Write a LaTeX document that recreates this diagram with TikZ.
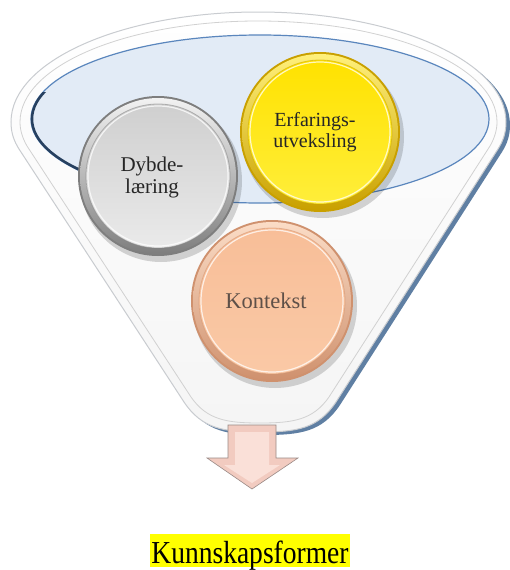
\documentclass[tikz,border=0pt]{standalone}
\usepackage{fontspec}
\setmainfont{Liberation Serif}
\usepackage{graphicx}
\usetikzlibrary{calc}
\definecolor{funnelshadow}{HTML}{5F7FA3}
\definecolor{iceblue}{HTML}{E2EBF6}
\definecolor{rimblue}{HTML}{5A86BD}
\definecolor{navyrim}{HTML}{27405F}
\definecolor{rimgray}{HTML}{C9CCD0}
\definecolor{arrowpink}{HTML}{F2CBC0}
\definecolor{arrowlight}{HTML}{FAE0D8}
\definecolor{arrowedge}{HTML}{9A8A86}
\definecolor{hiyellow}{HTML}{FFFF00}
\definecolor{kontekstgray}{HTML}{5E5048}
\definecolor{gRim}{HTML}{7E7E7E}
\definecolor{gLight}{HTML}{F2F2F2}
\definecolor{gTop}{HTML}{CFCFCF}
\definecolor{gBot}{HTML}{EAEAEA}
\definecolor{yRim}{HTML}{C9A000}
\definecolor{yLight}{HTML}{FFF07A}
\definecolor{yTop}{HTML}{FFE200}
\definecolor{yBot}{HTML}{FFEE3A}
\definecolor{oRim}{HTML}{CF916E}
\definecolor{oLight}{HTML}{FBDCC6}
\definecolor{oTop}{HTML}{F8BE98}
\definecolor{oBot}{HTML}{FAC9A6}
\tikzset{
  balltext/.style={align=center, text=black!85, font=\fontsize{21}{22}\selectfont, inner sep=0pt},
}
\newcommand\glossball[6]{%
  \fill[black,opacity=0.16] ($(#1)+(3,5)$) circle[radius=#2pt+1pt];
  \fill[#3] (#1) circle[radius=#2pt];
  \shade[top color=#4, bottom color=#3] (#1) circle[radius=#2pt-2pt];
  \shade[top color=#5, bottom color=#6] (#1) circle[radius=#2pt-8pt];
  \draw[white, opacity=0.75, line width=1.2pt] (#1) circle[radius=#2pt-10pt];
  \draw[#3, opacity=0.5, line width=0.8pt] (#1) circle[radius=#2pt-8pt];
}
\begin{document}
\begin{tikzpicture}[x=1pt,y=-1pt]
\useasboundingbox (0,0) rectangle (510,570);
\fill[white] (0,0) rectangle (510,570);
\def\funnelouter{(11,122) .. controls (11,61) and (122,12) .. (258,12) .. controls (394,12) and (506,61) .. (506,122) .. controls (506,133) and (503,141) .. (498,149) -- (336,402) .. controls (318,429) and (296,432) .. (260,432) .. controls (224,432) and (202,429) .. (184,402) -- (19,149) .. controls (14,141) and (11,133) .. (11,122) -- cycle}
\begin{scope}[shift={(4,3)}]
  \fill[funnelshadow] \funnelouter;
\end{scope}
\shade[top color=white, bottom color=black!4, draw=rimgray, line width=1pt] \funnelouter;
\draw[black!18, line width=0.8pt] (20,122) .. controls (20,66) and (126,21) .. (258,21) .. controls (390,21) and (497,66) .. (497,122) .. controls (497,131) and (494,139) .. (490,146) -- (329,397) .. controls (313,420) and (293,423) .. (260,423) .. controls (227,423) and (207,420) .. (191,397) -- (27,146) .. controls (23,139) and (20,131) .. (20,122) -- cycle;
\filldraw[fill=iceblue, draw=rimblue, line width=1.2pt] (260,119) ellipse[x radius=229pt, y radius=84pt];
\begin{scope}
  \clip (0,92) rectangle (110,260);
  \draw[navyrim, line width=2.5pt] (260,119) ellipse[x radius=228pt, y radius=83pt];
\end{scope}
\coordinate (gball) at (158,176);
\coordinate (yball) at (320,132);
\coordinate (oball) at (272,301);
\glossball{gball}{80}{gRim}{gLight}{gTop}{gBot}
\glossball{yball}{80}{yRim}{yLight}{yTop}{yBot}
\glossball{oball}{81}{oRim}{oLight}{oTop}{oBot}
\node[balltext] (dybde) at (152,177) {Dybde-\\læring};
\node[balltext, font=\fontsize{20}{21}\selectfont] (erf) at (315,132) {Erfarings-\\utveksling};
\node[balltext, text=kontekstgray, font=\fontsize{22.5}{24}\selectfont] (kon) at (266,301) {Kontekst};
\filldraw[fill=arrowpink, draw=arrowedge, line width=0.6pt] (228,425) -- (276,425) -- (276,458) -- (298,458) -- (252,489) -- (207,458) -- (228,458) -- cycle;
\fill[arrowlight] (235,432) -- (269,432) -- (269,465) -- (280,465) -- (252,483) -- (224,465) -- (235,465) -- cycle;
\node[fill=hiyellow, inner xsep=1pt, inner ysep=2pt, text height=27pt, text depth=2pt, anchor=base, font=\fontsize{32}{34}\selectfont] (label) at (250,563) {\scalebox{0.86}[1]{Kunnskapsformer}};
\end{tikzpicture}
\end{document}
